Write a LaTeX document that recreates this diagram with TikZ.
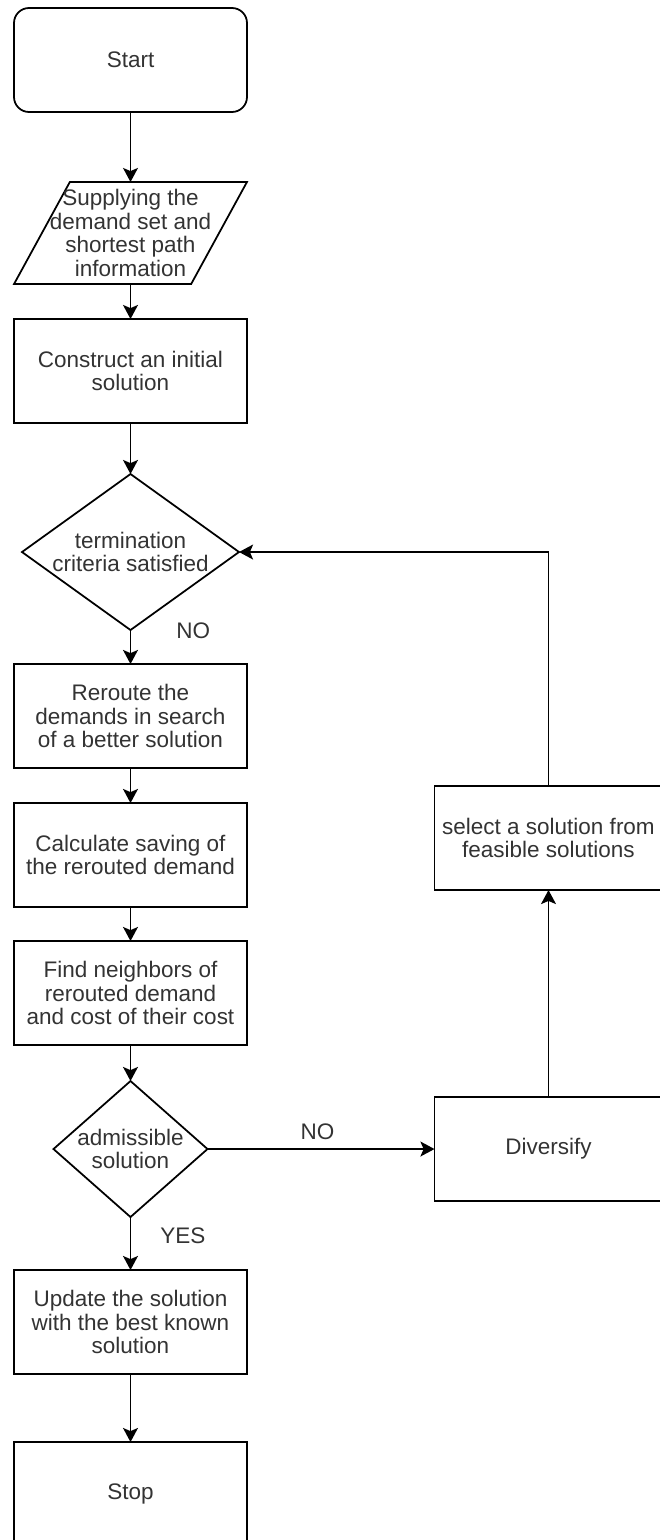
\documentclass[tikz,border=0pt]{standalone}
\usepackage{fontspec}
\setmainfont{Liberation Sans}
\usetikzlibrary{shapes.geometric,arrows.meta,positioning}

\begin{document}
\begin{tikzpicture}[
    node distance=0.7cm,
    every node/.style={font=\fontsize{12.8}{13.4}\selectfont, text=black!80},
    startstop/.style={rectangle, rounded corners=0.3cm, draw=black, line width=1pt, outer sep=0pt, minimum width=4.66cm, minimum height=2.08cm, align=center},
    process/.style={rectangle, draw=black, line width=1pt, outer sep=0pt, minimum width=4.66cm, minimum height=2.08cm, align=center, inner sep=0pt},
    io/.style={trapezium, trapezium left angle=65.3, trapezium right angle=114.7, trapezium stretches=true, draw=black, line width=1pt, outer sep=0pt, minimum width=4.66cm, minimum height=2.04cm},
    decision/.style={diamond, draw=black, line width=1pt, outer sep=0pt},
    every label/.style={align=center, inner sep=0pt},
    arrow/.style={-{Stealth[length=8pt, width=8.5pt, inset=1.8pt]}, line width=1pt},
    lbl/.style={inner sep=0pt}
]
\useasboundingbox (0,0) rectangle (13.18,-30.8);

% main flow
\node[startstop] (start) at (2.61,-1.2) {Start};
\node[io, below=1.4cm of start, label=center:{Supplying the\\demand set and\\shortest path\\information}] (supply) {};
\node[process, below=of supply] (construct) {Construct an initial\\solution};
\node[decision, minimum width=4.34cm, minimum height=3.12cm, below=1.02cm of construct, label=center:{termination\\criteria satisfied}] (term) {};
\node[process, below=0.68cm of term] (reroute) {Reroute the\\demands in search\\of a better solution};
\node[process, below=of reroute] (calc) {Calculate saving of\\the rerouted demand};
\node[process, below=0.68cm of calc] (find) {Find neighbors of\\rerouted demand\\and cost of their cost};
\node[decision, minimum width=3.08cm, minimum height=2.72cm, below=0.72cm of find, label=center:{admissible\\solution}] (adm) {};
\node[process, below=1.06cm of adm] (update) {Update the solution\\with the best known\\solution};
\node[process, below=1.36cm of update] (stop) {Stop};

% side loop
\node[process, minimum width=4.56cm, right=4.54cm of adm] (diversify) {Diversify};
\node[process, minimum width=4.56cm, above=4.14cm of diversify] (select) {select a solution from\\feasible solutions};

% connectors
\draw[arrow] (start) -- (supply);
\draw[arrow] (supply) -- (construct);
\draw[arrow] (construct) -- (term);
\draw[arrow] (term) -- node[lbl, pos=0.03, right=0.9cm] {NO} (reroute);
\draw[arrow] (reroute) -- (calc);
\draw[arrow] (calc) -- (find);
\draw[arrow] (find) -- (adm);
\draw[arrow] (adm) -- node[lbl, pos=0.36, right=0.58cm] {YES} (update);
\draw[arrow] (update) -- (stop);
\draw[arrow] (adm) -- node[lbl, pos=0.485, above=0.16cm] {NO} (diversify);
\draw[arrow] (diversify) -- (select);
\draw[arrow] (select.north) |- (term.east);

\end{tikzpicture}
\end{document}
